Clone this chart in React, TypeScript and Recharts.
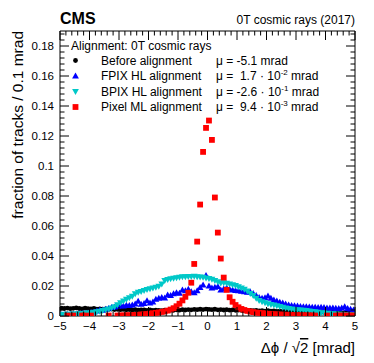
import React from 'react'
import { ScatterChart, Scatter, XAxis, YAxis } from 'recharts'

// bin centres, 0.1 mrad bins
const binCenters = [
    -4.95, -4.85, -4.75, -4.65, -4.55, -4.45, -4.35, -4.25, -4.15, -4.05,
    -3.95, -3.85, -3.75, -3.65, -3.55, -3.45, -3.35, -3.25, -3.15, -3.05,
    -2.95, -2.85, -2.75, -2.65, -2.55, -2.45, -2.35, -2.25, -2.15, -2.05,
    -1.95, -1.85, -1.75, -1.65, -1.55, -1.45, -1.35, -1.25, -1.15, -1.05,
    -0.95, -0.85, -0.75, -0.65, -0.55, -0.45, -0.35, -0.25, -0.15, -0.05,
    0.05, 0.15, 0.25, 0.35, 0.45, 0.55, 0.65, 0.75, 0.85, 0.95,
    1.05, 1.15, 1.25, 1.35, 1.45, 1.55, 1.65, 1.75, 1.85, 1.95,
    2.05, 2.15, 2.25, 2.35, 2.45, 2.55, 2.65, 2.75, 2.85, 2.95,
    3.05, 3.15, 3.25, 3.35, 3.45, 3.55, 3.65, 3.75, 3.85, 3.95,
    4.05, 4.15, 4.25, 4.35, 4.45, 4.55, 4.65, 4.75, 4.85, 4.95,
]

const beforeAlign = [
    0.0052, 0.0050, 0.0053, 0.0049, 0.0051, 0.0054, 0.0050, 0.0048, 0.0052, 0.0049,
    0.0047, 0.0050, 0.0046, 0.0048, 0.0045, 0.0047, 0.0044, 0.0046, 0.0043, 0.0045,
    0.0042, 0.0044, 0.0041, 0.0043, 0.0040, 0.0042, 0.0039, 0.0041, 0.0040, 0.0038,
    0.0040, 0.0037, 0.0039, 0.0038, 0.0036, 0.0039, 0.0037, 0.0040, 0.0038, 0.0041,
    0.0039, 0.0042, 0.0040, 0.0043, 0.0041, 0.0044, 0.0042, 0.0045, 0.0043, 0.0046,
    0.0044, 0.0042, 0.0045, 0.0041, 0.0043, 0.0040, 0.0042, 0.0039, 0.0041, 0.0038,
    0.0040, 0.0037, 0.0039, 0.0036, 0.0038, 0.0035, 0.0037, 0.0034, 0.0036, 0.0033,
    0.0035, 0.0032, 0.0034, 0.0031, 0.0033, 0.0030, 0.0032, 0.0029, 0.0031, 0.0028,
    0.0030, 0.0027, 0.0029, 0.0026, 0.0028, 0.0025, 0.0027, 0.0024, 0.0026, 0.0023,
    0.0025, 0.0022, 0.0024, 0.0021, 0.0023, 0.0020, 0.0022, 0.0019, 0.0021, 0.0018,
]

const fpixHL = [
    0.0008, 0.0009, 0.0010, 0.0011, 0.0012, 0.0013, 0.0015, 0.0016, 0.0018, 0.0020,
    0.0023, 0.0027, 0.0033, 0.0040, 0.0038, 0.0045, 0.0050, 0.0056, 0.0060, 0.0064,
    0.0068, 0.0066, 0.0071, 0.0070, 0.0074, 0.0080, 0.0098, 0.0078, 0.0084, 0.0102,
    0.0086, 0.0094, 0.0112, 0.0118, 0.0124, 0.0120, 0.0140, 0.0136, 0.0148, 0.0155,
    0.0152, 0.0173, 0.0168, 0.0178, 0.0162, 0.0155, 0.0168, 0.0190, 0.0207, 0.0270,
    0.0200, 0.0186, 0.0192, 0.0196, 0.0174, 0.0180, 0.0186, 0.0178, 0.0173, 0.0170,
    0.0168, 0.0165, 0.0162, 0.0158, 0.0160, 0.0150, 0.0136, 0.0124, 0.0118, 0.0122,
    0.0133, 0.0118, 0.0107, 0.0100, 0.0092, 0.0086, 0.0080, 0.0073, 0.0070, 0.0068,
    0.0066, 0.0064, 0.0062, 0.0061, 0.0060, 0.0059, 0.0058, 0.0057, 0.0058, 0.0056,
    0.0054, 0.0053, 0.0053, 0.0052, 0.0050, 0.0054, 0.0062, 0.0050, 0.0045, 0.0040,
]

const bpixHL = [
    0.0010, 0.0011, 0.0011, 0.0012, 0.0013, 0.0014, 0.0015, 0.0017, 0.0018, 0.0020,
    0.0022, 0.0025, 0.0028, 0.0032, 0.0036, 0.0042, 0.0047, 0.0053, 0.0062, 0.0075,
    0.0088, 0.0100, 0.0112, 0.0122, 0.0131, 0.0148, 0.0158, 0.0163, 0.0170, 0.0176,
    0.0182, 0.0187, 0.0192, 0.0198, 0.0214, 0.0236, 0.0243, 0.0248, 0.0252, 0.0255,
    0.0259, 0.0261, 0.0262, 0.0264, 0.0263, 0.0265, 0.0262, 0.0260, 0.0258, 0.0254,
    0.0250, 0.0245, 0.0236, 0.0228, 0.0220, 0.0221, 0.0219, 0.0214, 0.0208, 0.0203,
    0.0195, 0.0186, 0.0178, 0.0166, 0.0150, 0.0136, 0.0118, 0.0104, 0.0095, 0.0088,
    0.0082, 0.0077, 0.0073, 0.0068, 0.0063, 0.0058, 0.0053, 0.0050, 0.0047, 0.0044,
    0.0042, 0.0040, 0.0038, 0.0036, 0.0033, 0.0030, 0.0028, 0.0025, 0.0022, 0.0020,
    0.0018, 0.0016, 0.0015, 0.0013, 0.0012, 0.0011, 0.0010, 0.0010, 0.0009, 0.0008,
]

// null = empty bin (not drawn)
const pixelML = [
    null, null, 0.0003, null, 0.0003, null, null, 0.0003, 0.0003, null,
    0.0003, null, null, null, null, null, 0.0003, null, null, 0.0003,
    0.0003, 0.0004, 0.0005, 0.0005, 0.0006, 0.0007, 0.0008, 0.0010, 0.0011, 0.0013,
    0.0016, 0.0018, 0.0021, 0.0024, 0.0027, 0.0031, 0.0036, 0.0043, 0.0052, 0.0065,
    0.0082, 0.0104, 0.0128, 0.0155, 0.0222, 0.0347, 0.0496, 0.0743, 0.1094, 0.1254,
    0.1303, 0.1174, 0.0790, 0.0556, 0.0383, 0.0256, 0.0174, 0.0125, 0.0095, 0.0073,
    0.0058, 0.0047, 0.0040, 0.0034, 0.0030, 0.0026, 0.0023, 0.0021, 0.0019, 0.0017,
    0.0015, 0.0014, 0.0012, 0.0011, 0.0010, 0.0009, 0.0008, 0.0008, 0.0007, 0.0006,
    0.0006, 0.0005, 0.0005, 0.0004, 0.0004, 0.0003, 0.0003, null, null, null,
    0.0003, null, null, 0.0003, 0.0003, 0.0003, 0.0003, 0.0003, 0.0003, 0.0003,
]

const xMajorTicks = [-5, -4, -3, -2, -1, 0, 1, 2, 3, 4, 5]
const yMajorTicks = [0, 0.02, 0.04, 0.06, 0.08, 0.1, 0.12, 0.14, 0.16, 0.18]
const yTickLabels = ['0', '0.02', '0.04', '0.06', '0.08', '0.1', '0.12', '0.14', '0.16', '0.18']

const legendRows = ['Before alignment', 'FPIX HL alignment', 'BPIX HL alignment', 'Pixel ML alignment']
const legendMeans = ['-5.1', ' 1.7 · 10', '-2.6 · 10', ' 9.4 · 10']
const legendExps = ['', '-2', '-1', '-3']

// minor ticks: 5 subdivisions per major
const xTicks = Array.from({ length: 51 }, (_, i) => Math.round((-5 + i * 0.2) * 1000) / 1000)
const yTicks = Array.from({ length: 48 }, (_, i) => Math.round(i * 0.004 * 10000) / 10000)

const FONT = '"Liberation Sans", Arial, Helvetica, sans-serif'
const MAJ = 9
const MIN = 4.5
const BLACK = '#000000'
const BLUE = '#0000ff'
const CYAN = '#00c8c8'
const RED = '#ff0000'

const toPoints = (vals: (number | null)[]) =>
    binCenters.map((x, i) => ({ x, y: vals[i] })).filter(p => p.y != null)

const near = (v: number, list: number[]) => list.findIndex(m => Math.abs(m - v) < 1e-6)

const fmtX = (v: number) => (v < 0 ? `\u2212${Math.abs(v)}` : `${v}`)

function BottomTick({ x, y, payload }: any) {
    const major = near(payload.value, xMajorTicks) >= 0
    return (
        <g>
            <line x1={x} x2={x} y1={y} y2={y - (major ? MAJ : MIN)} stroke={BLACK} />
            {major && (
                <text x={x} y={y + 13.5} textAnchor="middle" fontSize={11.5} fontFamily={FONT} fill={BLACK}>
                    {fmtX(payload.value)}
                </text>
            )}
        </g>
    )
}

function TopTick({ x, y, payload }: any) {
    const major = near(payload.value, xMajorTicks) >= 0
    return <line x1={x} x2={x} y1={y} y2={y + (major ? MAJ : MIN)} stroke={BLACK} />
}

function LeftTick({ x, y, payload }: any) {
    const idx = near(payload.value, yMajorTicks)
    const major = idx >= 0
    return (
        <g>
            <line x1={x} x2={x + (major ? MAJ : MIN)} y1={y} y2={y} stroke={BLACK} />
            {major && (
                <text x={x - 6} y={y + 4} textAnchor="end" fontSize={11.5} fontFamily={FONT} fill={BLACK}>
                    {yTickLabels[idx]}
                </text>
            )}
        </g>
    )
}

function RightTick({ x, y, payload }: any) {
    const major = near(payload.value, yMajorTicks) >= 0
    return <line x1={x} x2={x - (major ? MAJ : MIN)} y1={y} y2={y} stroke={BLACK} />
}

const Dot = ({ cx, cy }: any) => <circle cx={cx} cy={cy} r={2.4} fill={BLACK} />
const TriUp = ({ cx, cy }: any) => (
    <path d={`M${cx},${cy - 3.5}L${cx + 3.4},${cy + 2.5}L${cx - 3.4},${cy + 2.5}Z`} fill={BLUE} />
)
const TriDown = ({ cx, cy }: any) => (
    <path d={`M${cx},${cy + 3.5}L${cx + 3.4},${cy - 2.5}L${cx - 3.4},${cy - 2.5}Z`} fill={CYAN} />
)
const Square = ({ cx, cy }: any) => <rect x={cx - 2.9} y={cy - 2.9} width={5.8} height={5.8} fill={RED} />
const Nothing = () => <g />

const markers = [Dot, TriUp, TriDown, Square]

export default function App() {
    const legendY = [64.5, 80, 95.5, 111]
    return (
        <div style={{ position: 'absolute', left: 0, top: 0, width: 374, height: 363, background: '#fff' }}>
            <ScatterChart width={374} height={363} margin={{ top: 0, right: 0, bottom: 0, left: 0 }}>
                <XAxis xAxisId="b" type="number" dataKey="x" domain={[-5, 5]} ticks={xTicks} interval={0}
                    tickSize={0} tickMargin={0} tick={BottomTick} tickLine={false} height={47}
                    axisLine={{ stroke: BLACK }} allowDataOverflow />
                <XAxis xAxisId="t" orientation="top" type="number" dataKey="x" domain={[-5, 5]} ticks={xTicks}
                    interval={0} tickSize={0} tickMargin={0} tick={TopTick} tickLine={false} height={31}
                    axisLine={{ stroke: BLACK }} allowDataOverflow />
                <YAxis yAxisId="l" type="number" dataKey="y" domain={[0, 0.19]} ticks={yTicks} interval={0}
                    tickSize={0} tickMargin={0} tick={LeftTick} tickLine={false} width={60}
                    axisLine={{ stroke: BLACK }} allowDataOverflow />
                <YAxis yAxisId="r" orientation="right" type="number" dataKey="y" domain={[0, 0.19]} ticks={yTicks}
                    interval={0} tickSize={0} tickMargin={0} tick={RightTick} tickLine={false} width={19}
                    axisLine={{ stroke: BLACK }} allowDataOverflow />
                <Scatter xAxisId="t" yAxisId="r" data={toPoints(beforeAlign)} shape={Nothing} isAnimationActive={false} />
                <Scatter xAxisId="b" yAxisId="l" data={toPoints(beforeAlign)} shape={Dot} isAnimationActive={false} />
                <Scatter xAxisId="b" yAxisId="l" data={toPoints(fpixHL)} shape={TriUp} isAnimationActive={false} />
                <Scatter xAxisId="b" yAxisId="l" data={toPoints(bpixHL)} shape={TriDown} isAnimationActive={false} />
                <Scatter xAxisId="b" yAxisId="l" data={toPoints(pixelML)} shape={Square} isAnimationActive={false} />
            </ScatterChart>
            <svg width={374} height={363} style={{ position: 'absolute', left: 0, top: 0, pointerEvents: 'none' }}
                fontFamily={FONT}>
                <text x={60} y={24} fontSize={16} fontWeight="bold">CMS</text>
                <text x={355} y={24} fontSize={12} textAnchor="end">0T cosmic rays (2017)</text>
                <text transform="translate(22.5,31) rotate(-90)" fontSize={15.5} textAnchor="end">
                    fraction of tracks / 0.1 mrad
                </text>
                <text x={355} y={353} fontSize={15} textAnchor="end">
                    Δϕ / √<tspan style={{ textDecoration: 'overline' }}>2</tspan> [mrad]
                </text>
                <text x={71} y={50} fontSize={12}>Alignment: 0T cosmic rays</text>
                {legendRows.map((label, i) => {
                    const M = markers[i]
                    return (
                        <g key={label}>
                            <M cx={75.5} cy={legendY[i] - 4} />
                            <text x={101} y={legendY[i]} fontSize={12}>{label}</text>
                            <text x={216} y={legendY[i]} fontSize={12} style={{ whiteSpace: 'pre' }}>
                                {`μ = ${legendMeans[i]}`}
                                {legendExps[i] && <tspan dy={-5} fontSize={8}>{legendExps[i]}</tspan>}
                                <tspan dy={legendExps[i] ? 5 : 0}> mrad</tspan>
                            </text>
                        </g>
                    )
                })}
            </svg>
        </div>
    )
}
